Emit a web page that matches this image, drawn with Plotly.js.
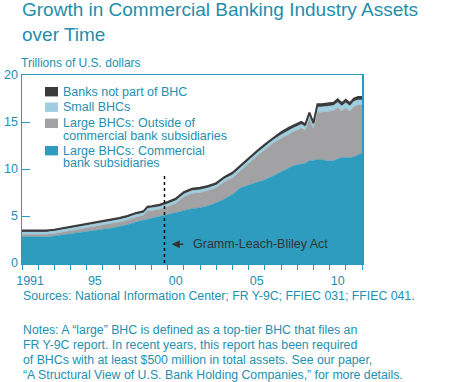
<!DOCTYPE html>
<html><head><meta charset="utf-8">
<script src="https://cdn.plot.ly/plotly-3.0.1.min.js"></script>
<style>html,body{margin:0;padding:0;background:#fff}#chart{width:450px;height:382px}</style>
</head><body><div id="chart"></div>
<script>
// ---- data (trillions of U.S. dollars) ----
const dates = [1991.0,1991.5,1992.0,1992.5,1993.0,1993.5,1994.0,1994.5,1995.0,1995.5,1996.0,1996.5,1997.0,1997.5,1998.0,1998.5,1998.75,1999.0,1999.5,2000.0,2000.5,2001.0,2001.5,2002.0,2002.5,2003.0,2003.5,2004.0,2004.5,2005.0,2005.5,2006.0,2006.5,2007.0,2007.5,2007.75,2008.0,2008.25,2008.5,2008.75,2009.0,2009.25,2009.5,2009.75,2010.0,2010.25,2010.5,2010.75,2011.0,2011.25,2011.5,2011.75,2012.0];
const largeCommercialSubs = [2.80,2.80,2.78,2.80,2.88,3.00,3.12,3.25,3.42,3.52,3.60,3.70,3.88,4.08,4.35,4.55,4.72,4.80,4.98,5.18,5.38,5.62,5.78,5.88,6.08,6.40,6.80,7.30,8.00,8.30,8.55,8.85,9.25,9.70,10.20,10.35,10.45,10.55,10.60,10.90,10.90,11.00,11.00,10.90,10.85,10.90,11.10,11.20,11.25,11.20,11.30,11.50,11.70];
const largeOutsideSubs = [0.25,0.25,0.24,0.25,0.27,0.30,0.33,0.35,0.35,0.40,0.42,0.45,0.47,0.49,0.52,0.52,0.80,0.77,0.74,0.82,0.97,1.43,1.62,1.62,1.62,1.60,1.85,1.75,1.85,2.25,2.80,3.20,3.50,3.55,3.55,3.60,3.70,3.80,3.50,4.45,3.35,5.05,5.05,5.20,5.30,5.30,5.45,4.95,5.25,4.95,5.35,5.30,5.10];
const smallBHCs = [0.25,0.25,0.25,0.25,0.25,0.25,0.25,0.25,0.28,0.28,0.28,0.28,0.28,0.28,0.28,0.28,0.30,0.30,0.30,0.30,0.30,0.30,0.30,0.30,0.30,0.30,0.30,0.35,0.35,0.35,0.35,0.35,0.35,0.40,0.40,0.40,0.40,0.40,0.40,0.40,0.40,0.55,0.55,0.55,0.55,0.55,0.55,0.55,0.55,0.55,0.55,0.55,0.55];
const nonBHCBanks = [0.15,0.15,0.15,0.15,0.15,0.15,0.15,0.15,0.15,0.15,0.15,0.15,0.15,0.15,0.15,0.15,0.18,0.18,0.18,0.20,0.20,0.20,0.20,0.20,0.20,0.20,0.20,0.20,0.20,0.20,0.20,0.20,0.20,0.25,0.25,0.25,0.25,0.25,0.25,0.25,0.25,0.30,0.30,0.30,0.30,0.30,0.30,0.30,0.30,0.30,0.30,0.30,0.30];

const seriesNames = ['Large BHCs: Commercial<br>bank subsidiaries','Large BHCs: Outside of<br>commercial bank subsidiaries','Small BHCs','Banks not part of BHC'];
const xLabelYears = [1991,1995,2000,2005,2010];
const xTickLabels = ['1991','95','00','05','10'];
const yTickVals = [0,5,10,15,20];
const glbYear = 1999.8;
const glbLabel = 'Gramm-Leach-Bliley Act';

// ---- style ----
const TEAL = '#2d9cbf', GRAY = '#a2a2a4', LBLUE = '#9dcfe1', DARK = '#3b3b3d';
const FRAME = '#2b9ac0', TXT = '#2390b0';
const FONT = 'Liberation Sans, Arial, Helvetica, sans-serif';
const colors = [TEAL, GRAY, LBLUE, DARK];
const values = [largeCommercialSubs, largeOutsideSubs, smallBHCs, nonBHCBanks];

const W = 450, H = 382, ML = 22, MR = 88, MT = 75, MB = 119;
const PW = W - ML - MR, PH = H - MT - MB;
const px = x => (x - ML) / PW;
const py = y => (H - MB - y) / PH;

const traces = values.map((v, i) => ({
  x: dates, y: v, type: 'scatter', mode: 'lines', stackgroup: 'one',
  name: seriesNames[i], fillcolor: colors[i],
  line: {color: colors[i], width: i === 3 ? 2 : 0.5, shape: 'linear'},
  hoverinfo: 'skip', showlegend: false
}));

const shapes = [{
  type: 'line', xref: 'x', yref: 'y', x0: glbYear, x1: glbYear, y0: 0, y1: 9.4,
  line: {color: '#111', width: 1.5, dash: 'dot'}
}];
const annotations = [];

// manual legend (top to bottom as in the reference)
const legendOrder = [3, 2, 1, 0];
const legendRows = [91.7, 107.2, 123.3, 150.7];
legendOrder.forEach((si, k) => {
  const yc = legendRows[k];
  shapes.push({type: 'rect', xref: 'paper', yref: 'paper',
    x0: px(45), x1: px(58), y0: py(yc + 4.7), y1: py(yc - 4.7),
    fillcolor: colors[si], line: {width: 0}});
  seriesNames[si].split('<br>').forEach((ln, j) => {
    annotations.push({xref: 'paper', yref: 'paper', x: px(60.5), y: py(yc + j * 12.2),
      xanchor: 'left', yanchor: 'middle', showarrow: false, text: ln,
      font: {family: FONT, size: 12.5, color: TXT}});
  });
});

// Gramm-Leach-Bliley arrow + label
annotations.push({xref: 'x', yref: 'y', axref: 'x', ayref: 'y',
  x: 2000.25, y: 2.0, ax: 2001.05, ay: 2.0, text: '', showarrow: true,
  arrowhead: 2, arrowsize: 1, arrowwidth: 1.6, arrowcolor: '#333'});
annotations.push({xref: 'x', yref: 'y', x: 2001.45, y: 2.0, xanchor: 'left', yanchor: 'middle',
  text: glbLabel, showarrow: false, font: {family: FONT, size: 12.5, color: '#333'}});

// unit label, sources, notes
annotations.push({xref: 'paper', yref: 'paper', x: px(19), y: py(62.5), xanchor: 'left', yanchor: 'middle',
  showarrow: false, text: 'Trillions of U.S. dollars', font: {family: FONT, size: 12, color: TXT}});
annotations.push({xref: 'paper', yref: 'paper', x: px(20.5), y: py(296), xanchor: 'left', yanchor: 'middle',
  showarrow: false, text: 'Sources: National Information Center; FR Y-9C; FFIEC 031; FFIEC 041.',
  font: {family: FONT, size: 12.3, color: TXT}});
const notes = ['Notes: A \u201clarge\u201d BHC is defined as a top-tier BHC that files an',
  'FR Y-9C report. In recent years, this report has been required',
  'of BHCs with at least $500 million in total assets. See our paper,',
  '\u201cA Structural View of U.S. Bank Holding Companies,\u201d for more details.'];
notes.forEach((t, i) => annotations.push({xref: 'paper', yref: 'paper', x: px(20.5), y: py(329.5 + i * 15.3),
  xanchor: 'left', yanchor: 'middle', showarrow: false, text: t,
  font: {family: FONT, size: 12.3, color: TXT}}));

const layout = {
  width: W, height: H, margin: {l: ML, r: MR, t: MT, b: MB, pad: 0},
  paper_bgcolor: '#fff', plot_bgcolor: '#fff', showlegend: false,
  font: {family: FONT, color: TXT, size: 12.5},
  title: {text: 'Growth in Commercial Banking Industry Assets<br>over Time',
    font: {family: FONT, size: 19, color: '#1f8eab'},
    xref: 'paper', yref: 'container', x: 0, xanchor: 'left', y: 1 - 16 / H, yanchor: 'top'},
  xaxis: {range: [1991, 2012], showgrid: false, zeroline: false,
    showline: true, mirror: true, linecolor: FRAME, linewidth: 1.5,
    tickmode: 'array', tickvals: xLabelYears.map(v => v + 0.5), ticktext: xTickLabels,
    ticks: 'outside', ticklen: 5, tickcolor: 'rgba(0,0,0,0)',
    minor: {tick0: 1991, dtick: 1, ticks: 'outside', ticklen: 5, tickcolor: FRAME, tickwidth: 1, showgrid: false},
    tickfont: {family: FONT, size: 12.5, color: TXT}},
  yaxis: {range: [0, 20], showgrid: false, zeroline: false,
    showline: true, mirror: true, linecolor: FRAME, linewidth: 1.5,
    tickmode: 'array', tickvals: yTickVals, ticks: 'inside', ticklen: 8, tickcolor: FRAME, tickwidth: 1,
    tickfont: {family: FONT, size: 12.5, color: TXT}},
  shapes: shapes, annotations: annotations
};

Plotly.newPlot('chart', traces, layout, {staticPlot: true, displayModeBar: false});
</script></body></html>
